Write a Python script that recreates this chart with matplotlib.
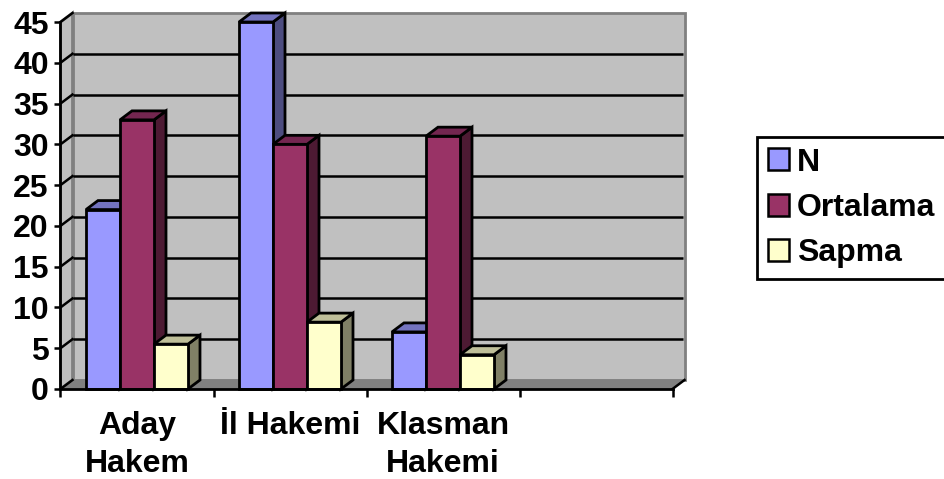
import numpy as np
import matplotlib
matplotlib.use('Agg')
import matplotlib.pyplot as plt
from matplotlib.patches import Patch, Polygon

# Chart data
categories = ['Aday\nHakem', 'İl Hakemi', 'Klasman\nHakemi', '']
series_names = ['N', 'Ortalama', 'Sapma']
n_values = [22, 45, 7]
ortalama_values = [33, 30, 31]
sapma_values = [5.5, 8.2, 4.2]
y_ticks = [0, 5, 10, 15, 20, 25, 30, 35, 40, 45]

front_colors = ['#9999FF', '#993366', '#FFFFCC']
top_colors = ['#7373BF', '#732650', '#BFBF99']
side_colors = ['#4D4D80', '#4D1A33', '#808066']

W, H = 944, 479
x0, x1, y0, y1 = 60.5, 672.5, 389, 22

plt.rcParams['font.family'] = ['Liberation Sans', 'DejaVu Sans']
plt.rcParams['font.weight'] = 'bold'

fig = plt.figure(figsize=(W / 100, H / 100), dpi=100)
ax = fig.add_axes([x0 / W, 1 - y0 / H, (x1 - x0) / W, (y0 - y1) / H])
ax.set_xlim(0, 4)
ax.set_ylim(0, 45)

# 3D depth of the box, as data units
dx = 12 / ((x1 - x0) / 4)
dy = 9 / ((y0 - y1) / 45)
top = 45 + dy
lw = 2.0


def poly(pts, fc, ec='none', lw=0, z=1):
    ax.add_patch(Polygon(pts, closed=True, fc=fc, ec=ec, lw=lw, zorder=z,
                         clip_on=False, joinstyle='miter'))


# walls and floor
poly([(0, 0), (dx, dy), (dx, top), (0, 45)], '#C0C0C0', '#808080', 2, 1)
poly([(dx, dy), (4 + dx, dy), (4 + dx, top), (dx, top)], '#C0C0C0', '#808080', 2, 1)
poly([(0, 0), (4, 0), (4 + dx, dy), (dx, dy)], '#808080', '#808080', 0.5, 1.5)

# grid lines on the back wall plus the diagonal on the left wall
for v in y_ticks[1:-1]:
    ax.plot([dx, 4 + dx - 0.01], [v + dy, v + dy], color='black', lw=1.8, zorder=2,
            clip_on=False, solid_capstyle='butt')
for v in y_ticks:
    ax.plot([0, dx], [v, v + dy], color='black', lw=1.8, zorder=2, clip_on=False)
ax.plot([4, 4 + dx], [0, dy], color='black', lw=1.8, zorder=2, clip_on=False)

# bars, left to right so each one hides the side of the previous
bar_w = 0.2222
series = [n_values, ortalama_values, sapma_values]
for c in range(3):
    for s in range(3):
        v = series[s][c]
        left = c + 0.1667 + s * bar_w
        right = left + bar_w
        z = 3 + c + s * 0.1
        poly([(right, 0), (right + dx, dy), (right + dx, v + dy), (right, v)],
             side_colors[s], 'black', lw, z)
        poly([(left, v), (right, v), (right + dx, v + dy), (left + dx, v + dy)],
             top_colors[s], 'black', lw, z)
        ax.bar(left, v, bar_w, align='edge', color=front_colors[s], edgecolor='black',
               lw=lw, zorder=z, clip_on=False)

ax.set_xticks(np.arange(5))
ax.set_xticklabels([])
ax.set_xticks(np.arange(4) + 0.5, minor=True)
ax.set_xticklabels(categories, minor=True, fontsize=23, fontweight='bold', linespacing=1.37)
ax.tick_params(axis='x', which='major', length=5.5, width=1.8)
ax.tick_params(axis='x', which='minor', length=0, pad=15.5)
ax.set_yticks(y_ticks)
ax.set_yticklabels([str(v) for v in y_ticks], fontsize=23, fontweight='bold')
ax.tick_params(axis='y', length=4.5, width=1.8, pad=4)

for side in ['top', 'right']:
    ax.spines[side].set_visible(False)
for side in ['left', 'bottom']:
    ax.spines[side].set_linewidth(2)
    ax.spines[side].set_zorder(20)
ax.patch.set_visible(False)

handles = [Patch(fc=c, ec='black', lw=1.8) for c in front_colors]
leg = fig.legend(handles, series_names, loc='upper left',
                 bbox_to_anchor=(757 / W, 1 - 137 / H), borderaxespad=0,
                 fontsize=23, fancybox=False, framealpha=1, edgecolor='black',
                 handlelength=0.68, handleheight=0.68, handletextpad=0.25,
                 labelspacing=0.48, borderpad=0.33)
leg.get_frame().set_linewidth(2)

fig.savefig('out.png', dpi=100)
